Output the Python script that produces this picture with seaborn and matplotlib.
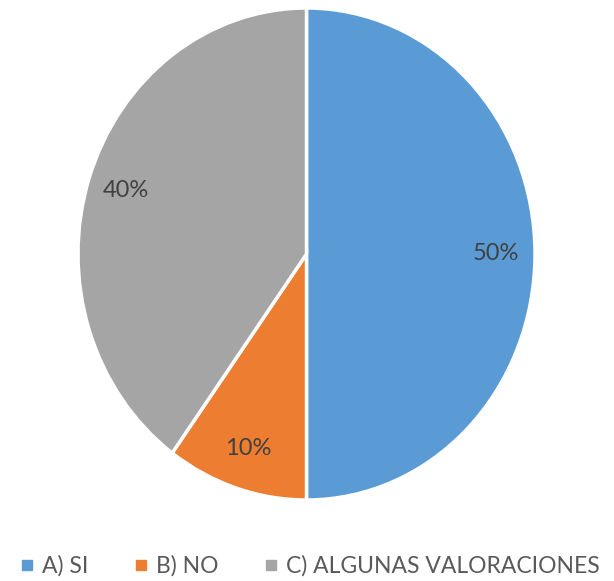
import matplotlib
matplotlib.use("Agg")
import matplotlib.pyplot as plt
import seaborn as sns
from matplotlib.lines import Line2D

categories = ["A) SI", "B) NO", "C) ALGUNAS VALORACIONES"]
values = [50, 10, 40]
colors = ["#5B9BD5", "#ED7D31", "#A5A5A5"]

sns.set_theme(style="white")
plt.rcParams['font.family'] = ['Lato', 'DejaVu Sans']

fig = plt.figure(figsize=(6.14, 5.81), dpi=100)
ax = fig.add_axes([78/614, (581-500)/581, 457/614, 492/581])
wedges, texts, autotexts = ax.pie(
    values, colors=colors, startangle=90, counterclock=False,
    autopct=lambda p: f"{p:.0f}%", pctdistance=0.83,
    wedgeprops=dict(edgecolor="white", linewidth=2.5),
    textprops=dict(color="#404040", fontsize=17))
ax.set_aspect('auto')
ax.set_xlim(-1, 1)
ax.set_ylim(-1, 1)
ax.axis('off')

handles = [Line2D([0], [0], marker='s', linestyle='none', markersize=7,
                  markerfacecolor=c, markeredgecolor=c) for c in colors]
fig.legend(handles, categories, loc='center', bbox_to_anchor=(0.505, (581-566)/581),
           ncol=3, frameon=False, fontsize=16.5, labelcolor="#595959",
           handlelength=0.6, handletextpad=0.35, columnspacing=2.0)

fig.savefig("out.png", dpi=100)
